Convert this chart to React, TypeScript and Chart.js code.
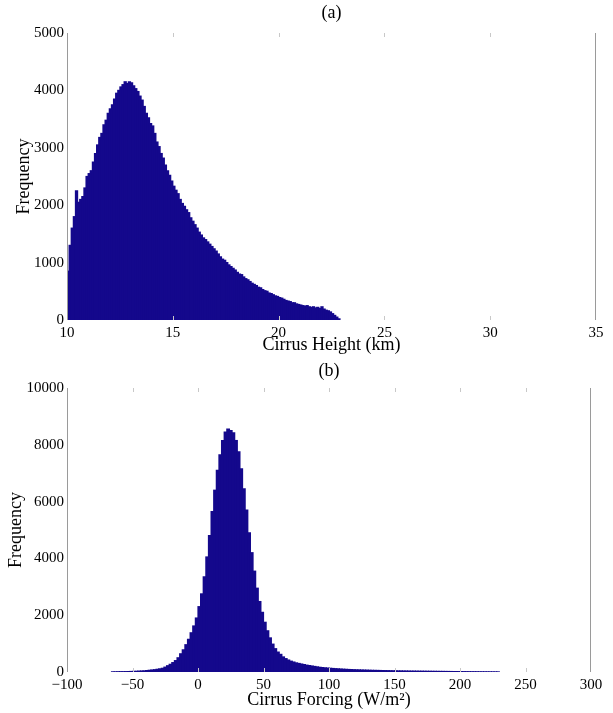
import React, { useEffect, useRef } from "react";
import { Chart, registerables } from "chart.js";

Chart.register(...registerables);

// ---------- Data ----------
// (a) Cirrus height histogram, bins of 0.1 km starting at 10.0 km
const heightBinStart = 10.0;
const heightBinWidth = 0.1;
const heightCounts = [
  850, 1300, 1600, 1800, 2250, 2050, 2100, 2150, 2300, 2500,
  2550, 2600, 2750, 2900, 3050, 3180, 3250, 3400, 3480, 3600,
  3680, 3750, 3850, 3950, 4000, 4060, 4100, 4150, 4120, 4150,
  4130, 4080, 4030, 3980, 3900, 3830, 3720, 3600, 3520, 3420,
  3380, 3250, 3100, 3020, 2900, 2820, 2700, 2600, 2520, 2420,
  2330, 2260, 2200, 2100, 2030, 1980, 1920, 1870, 1780, 1720,
  1660, 1600, 1530, 1480, 1430, 1400, 1360, 1320, 1280, 1240,
  1200, 1150, 1100, 1060, 1040, 1000, 960, 930, 900, 870,
  830, 800, 790, 750, 720, 700, 670, 640, 620, 600,
  570, 560, 530, 510, 500, 470, 460, 440, 420, 410,
  390, 380, 360, 340, 330, 320, 300, 300, 280, 270,
  260, 250, 240, 250, 230, 220, 230, 210, 220, 200,
  230, 190, 170, 160, 140, 110, 80, 50, 20,
];

// (b) Cirrus forcing histogram, bins of 2 W/m2 starting at -66 W/m2
const forcingBinStart = -66;
const forcingBinWidth = 2;
const forcingCounts = [
  5, 5, 8, 10, 10, 12, 15, 18, 20, 25,
  30, 35, 40, 50, 60, 70, 80, 95, 110, 130,
  170, 220, 270, 330, 400, 500, 640, 780, 960, 1150,
  1380, 1620, 1900, 2300, 2750, 3350, 4050, 4800, 5650, 6400,
  7100, 7650, 8150, 8450, 8550, 8500, 8420, 8150, 7750, 7150,
  6450, 5700, 4900, 4200, 3550, 2950, 2480, 2100, 1750, 1450,
  1200, 980, 820, 700, 620, 530, 470, 420, 380, 350,
  320, 300, 280, 260, 240, 225, 210, 195, 180, 165,
  155, 145, 138, 130, 123, 116, 110, 104, 98, 93,
  88, 84, 80, 76, 73, 70, 67, 64, 61, 58,
  56, 54, 52, 50, 48, 46, 44, 42, 40, 38,
  37, 35, 34, 32, 31, 30, 29, 28, 27, 26,
  25, 24, 23, 22, 21, 20, 19, 18, 17, 16,
  15, 14, 13, 12, 11, 10, 9, 8, 8, 7,
  6, 6, 5, 5, 4, 4, 3, 3,
];

// Axis ranges / ticks
const heightAxis = { min: 10, max: 35, step: 5, yMax: 5000, yStep: 1000 };
const forcingAxis = { min: -100, max: 300, step: 50, yMax: 10000, yStep: 2000 };

const titleA = "(a)";
const titleB = "(b)";
const xLabelA = "Cirrus Height (km)";
const xLabelB = "Cirrus Forcing (W/m\u00B2)";
const yLabel = "Frequency";

// ---------- Styling ----------
const FONT = "'Liberation Serif', 'Times New Roman', Times, serif";
const BAR_COLOR = "#14088c";

function toPoints(start: number, width: number, counts: number[]) {
  return counts.map((c, i) => ({ x: start + width * (i + 0.5), y: c }));
}

const matlabFrame = {
  id: "matlabFrame",
  afterDatasetsDraw(chart: any, _args: any, opts: any) {
    const { ctx, chartArea } = chart;
    const { left, right, top, bottom } = chartArea;
    const xs = chart.scales.x;
    ctx.save();
    ctx.lineWidth = 1;
    ctx.strokeStyle = "#9a9a9a";
    ctx.beginPath();
    const lx = Math.round(left) + 0.5;
    const rx = Math.round(right) - 0.5;
    ctx.moveTo(lx, top);
    ctx.lineTo(lx, bottom);
    ctx.moveTo(rx, top);
    ctx.lineTo(rx, bottom);
    ctx.stroke();
    ctx.strokeStyle = "#c8c8c8";
    ctx.beginPath();
    for (const t of xs.ticks) {
      const px = Math.round(xs.getPixelForValue(t.value)) + 0.5;
      if (px <= left + 2 || px >= right - 2) continue;
      ctx.moveTo(px, top);
      ctx.lineTo(px, top + 4);
      ctx.moveTo(px, bottom - 4);
      ctx.lineTo(px, bottom);
    }
    ctx.stroke();
    ctx.fillStyle = "#000";
    ctx.font = `18px ${FONT}`;
    ctx.textAlign = "center";
    ctx.textBaseline = "middle";
    ctx.fillText(opts.label, (left + right) / 2, top - opts.gap);
    ctx.restore();
  },
};

function makeConfig(
  points: { x: number; y: number }[],
  axis: { min: number; max: number; step: number; yMax: number; yStep: number },
  xLabel: string,
  title: string,
  layout: {
    padTop: number;
    padRight: number;
    yWidth: number;
    xHeight: number;
    yTitlePad: number;
    xTitlePad: number;
    titleGap: number;
  }
) {
  return {
    type: "bar" as const,
    data: {
      datasets: [
        {
          data: points,
          backgroundColor: BAR_COLOR,
          borderWidth: 0,
          barPercentage: 1,
          categoryPercentage: 1,
          inflateAmount: 0.6,
        },
      ],
    },
    options: {
      animation: false as const,
      responsive: false,
      maintainAspectRatio: false,
      layout: {
        padding: { top: layout.padTop, right: layout.padRight, left: 0, bottom: 0 },
      },
      plugins: {
        legend: { display: false },
        tooltip: { enabled: false },
        title: { display: false },
        matlabFrame: { label: title, gap: layout.titleGap },
      },
      scales: {
        x: {
          type: "linear" as const,
          min: axis.min,
          max: axis.max,
          offset: false,
          grid: { display: false, drawTicks: false },
          border: { display: false },
          ticks: {
            stepSize: axis.step,
            color: "#000",
            font: { family: FONT, size: 15 },
            padding: 4,
            maxRotation: 0,
            autoSkip: false,
            callback: (v: number) => (v < 0 ? "\u2212" + Math.abs(v) : String(v)),
          },
          title: {
            display: true,
            text: xLabel,
            color: "#000",
            font: { family: FONT, size: 18 },
            padding: { top: 0, bottom: layout.xTitlePad },
          },
          afterFit: (s: any) => {
            s.height = layout.xHeight;
          },
        },
        y: {
          min: 0,
          max: axis.yMax,
          grid: { display: false, drawTicks: false },
          border: { display: false },
          ticks: {
            stepSize: axis.yStep,
            color: "#000",
            font: { family: FONT, size: 15 },
            padding: 3,
            callback: (v: number) => String(v),
          },
          title: {
            display: true,
            text: yLabel,
            color: "#000",
            font: { family: FONT, size: 18 },
            padding: { top: layout.yTitlePad, bottom: 0 },
          },
          afterFit: (s: any) => {
            s.width = layout.yWidth;
          },
        },
      },
    },
    plugins: [matlabFrame],
  };
}

function HistChart(props: {
  top: number;
  height: number;
  config: any;
}) {
  const ref = useRef<HTMLCanvasElement | null>(null);
  useEffect(() => {
    if (!ref.current) return;
    const chart = new Chart(ref.current, props.config);
    return () => chart.destroy();
  }, []);
  return (
    <canvas
      ref={ref}
      width={613}
      height={props.height}
      style={{
        position: "absolute",
        left: 0,
        top: props.top,
        width: 613,
        height: props.height,
        display: "block",
      }}
    />
  );
}

export default function App() {
  const cfgA = makeConfig(
    toPoints(heightBinStart, heightBinWidth, heightCounts),
    heightAxis,
    xLabelA,
    titleA,
    { padTop: 33, padRight: 17, yWidth: 67, xHeight: 36, yTitlePad: 13, xTitlePad: 0, titleGap: 19.5 }
  );
  const cfgB = makeConfig(
    toPoints(forcingBinStart, forcingBinWidth, forcingCounts),
    forcingAxis,
    xLabelB,
    titleB,
    { padTop: 32, padRight: 22, yWidth: 67, xHeight: 41, yTitlePad: 5, xTitlePad: 2, titleGap: 16.5 }
  );
  return (
    <div
      style={{
        position: "absolute",
        left: 0,
        top: 0,
        width: 613,
        height: 713,
        background: "#fff",
      }}
    >
      <HistChart top={0} height={356} config={cfgA} />
      <HistChart top={356} height={357} config={cfgB} />
    </div>
  );
}
